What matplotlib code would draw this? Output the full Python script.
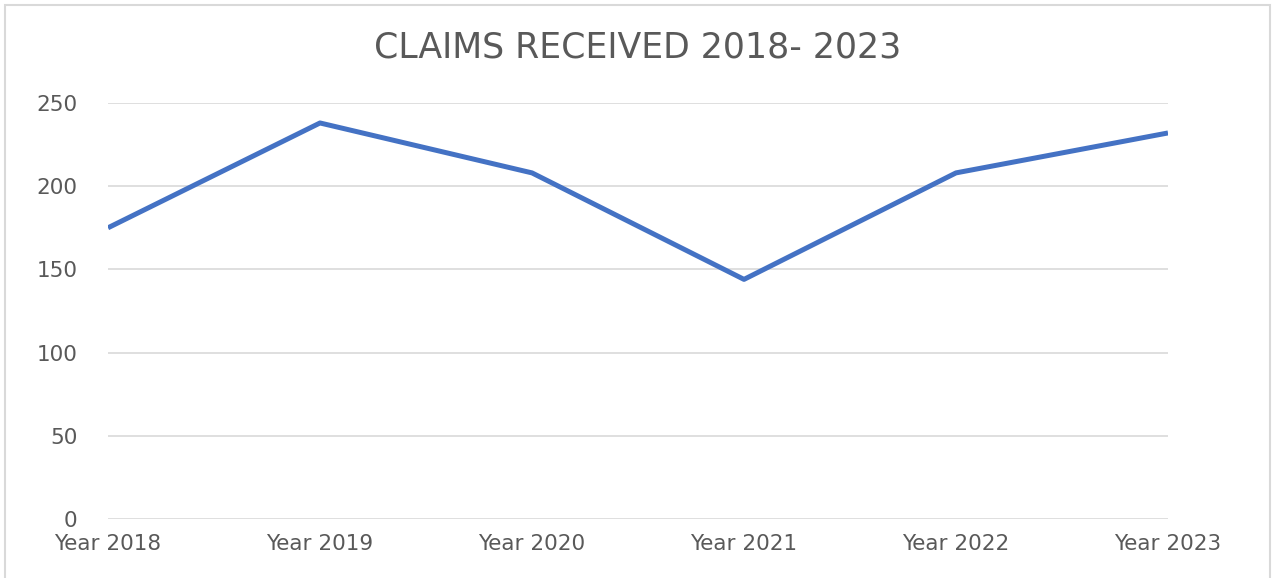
import matplotlib.pyplot as plt
from matplotlib.patches import Rectangle

years = ["Year 2018", "Year 2019", "Year 2020", "Year 2021", "Year 2022", "Year 2023"]
claims = [175, 238, 208, 144, 208, 232]
yticks = [0, 50, 100, 150, 200, 250]

W, H = 1274, 578
fig = plt.figure(figsize=(W / 100, H / 100), dpi=100)
ax = fig.add_axes([108 / W, 1 - 519 / H, (1168 - 108) / W, (519 - 103) / H])

grey = "#595959"
ax.plot(range(len(years)), claims, color="#4472C4", lw=3.6, solid_capstyle="butt")

ax.set_xlim(0, len(years) - 1)
ax.set_ylim(0, 250)
ax.set_yticks(yticks)
ax.set_xticks(range(len(years)))
ax.set_xticklabels(years)
ax.grid(axis="y", color="#D9D9D9", lw=1.2)
ax.set_axisbelow(True)
for s in ax.spines.values():
    s.set_visible(False)
ax.tick_params(axis="both", length=0, labelsize=15.5, labelcolor=grey)
ax.tick_params(axis="y", pad=22)
ax.tick_params(axis="x", pad=11)

fig.text(638 / W, 1 - 47 / H, "CLAIMS RECEIVED 2018- 2023", ha="center", va="center",
         fontsize=25, color=grey)

# outer chart frame
fig.patches.append(Rectangle((5 / W, -0.05), (1270 - 5) / W, 1.05 - 5 / H,
                             transform=fig.transFigure, fill=False,
                             edgecolor="#D9D9D9", lw=1.5))

fig.savefig("out.png", dpi=100)
